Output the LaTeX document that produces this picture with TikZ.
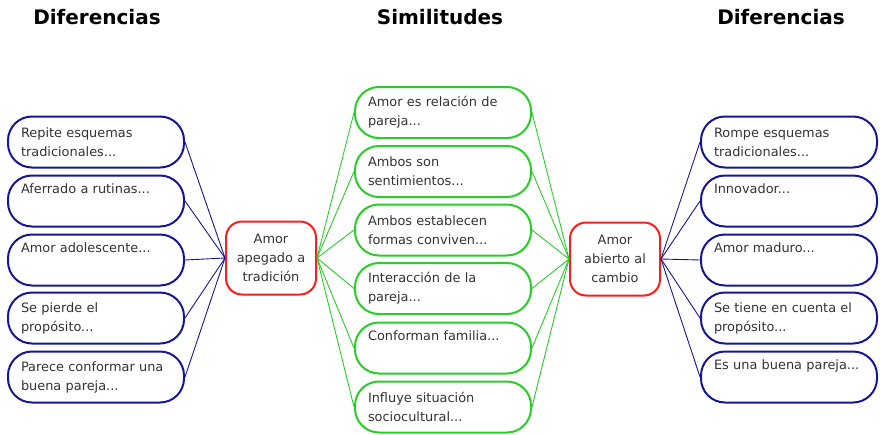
\documentclass[tikz,border=0pt]{standalone}
\usepackage{fontspec}
\setmainfont{DejaVu Sans}
\definecolor{navyb}{RGB}{22,22,150}
\definecolor{greenb}{RGB}{40,205,40}
\definecolor{redb}{RGB}{255,28,28}
\definecolor{txt}{RGB}{51,51,51}
\begin{document}
\begin{tikzpicture}[x=1pt,y=-1pt,
  every node/.style={font=\fontsize{12.9}{19}\selectfont, text=txt},
  item/.style={draw, line width=2pt, rounded corners=24pt, minimum width=176pt,
    minimum height=51pt, text width=150pt, inner xsep=13pt, inner ysep=0pt, align=left},
  bluebox/.style={item, draw=navyb},
  greenbox/.style={item, draw=greenb},
  centerbox/.style={draw=redb, line width=2pt, rounded corners=16pt, minimum width=90pt,
    minimum height=73pt, text width=84pt, inner xsep=3pt, inner ysep=0pt, align=center},
  head/.style={font=\bfseries\fontsize{20}{23}\selectfont, text=black},
  bline/.style={draw=navyb, line width=0.9pt},
  gline/.style={draw=greenb, line width=0.9pt}]
\useasboundingbox (0,0) rectangle (880,434);

\node[head] (h1) at (97,17) {Diferencias};
\node[head] (h2) at (440,17) {Similitudes};
\node[head] (h3) at (781,17) {Diferencias};

\node[bluebox] (l1) at (96,142) {Repite esquemas\\tradicionales...};
\node[bluebox] (l2) at (96,201) {Aferrado a rutinas...\\\strut};
\node[bluebox] (l3) at (96,260) {Amor adolescente...\\\strut};
\node[bluebox] (l4) at (96,318) {Se pierde el\\propósito...};
\node[bluebox] (l5) at (96,377) {Parece conformar una\\buena pareja...};

\node[centerbox] (cl) at (271,258) {Amor\\apegado a\\tradición};
\node[centerbox] (cr) at (615,259) {Amor\\abierto al\\cambio};

\node[greenbox] (g1) at (443,112.5) {Amor es relación de\\pareja...};
\node[greenbox] (g2) at (443,171.5) {Ambos son\\sentimientos...};
\node[greenbox] (g3) at (443,230) {Ambos establecen\\formas conviven...};
\node[greenbox] (g4) at (443,288.5) {Interacción de la\\pareja...};
\node[greenbox] (g5) at (443,348) {Conforman familia...\\\strut};
\node[greenbox] (g6) at (443,407) {Influye situación\\sociocultural...};

\node[bluebox] (r1) at (789,142) {Rompe esquemas\\tradicionales...};
\node[bluebox] (r2) at (789,201) {Innovador...\\\strut};
\node[bluebox] (r3) at (789,260) {Amor maduro...\\\strut};
\node[bluebox] (r4) at (789,318) {Se tiene en cuenta el\\propósito...};
\node[bluebox] (r5) at (789,377) {Es una buena pareja...\\\strut};

\foreach \n in {l1,l2,l3,l4,l5} \draw[bline] (\n.east) -- (cl.west);
\foreach \n in {r1,r2,r3,r4,r5} \draw[bline] (cr.east) -- (\n.west);
\foreach \n in {g1,g2,g3,g4,g5,g6} {
  \draw[gline] (cl.east) -- (\n.west);
  \draw[gline] (\n.east) -- (cr.west);
}
\end{tikzpicture}
\end{document}
